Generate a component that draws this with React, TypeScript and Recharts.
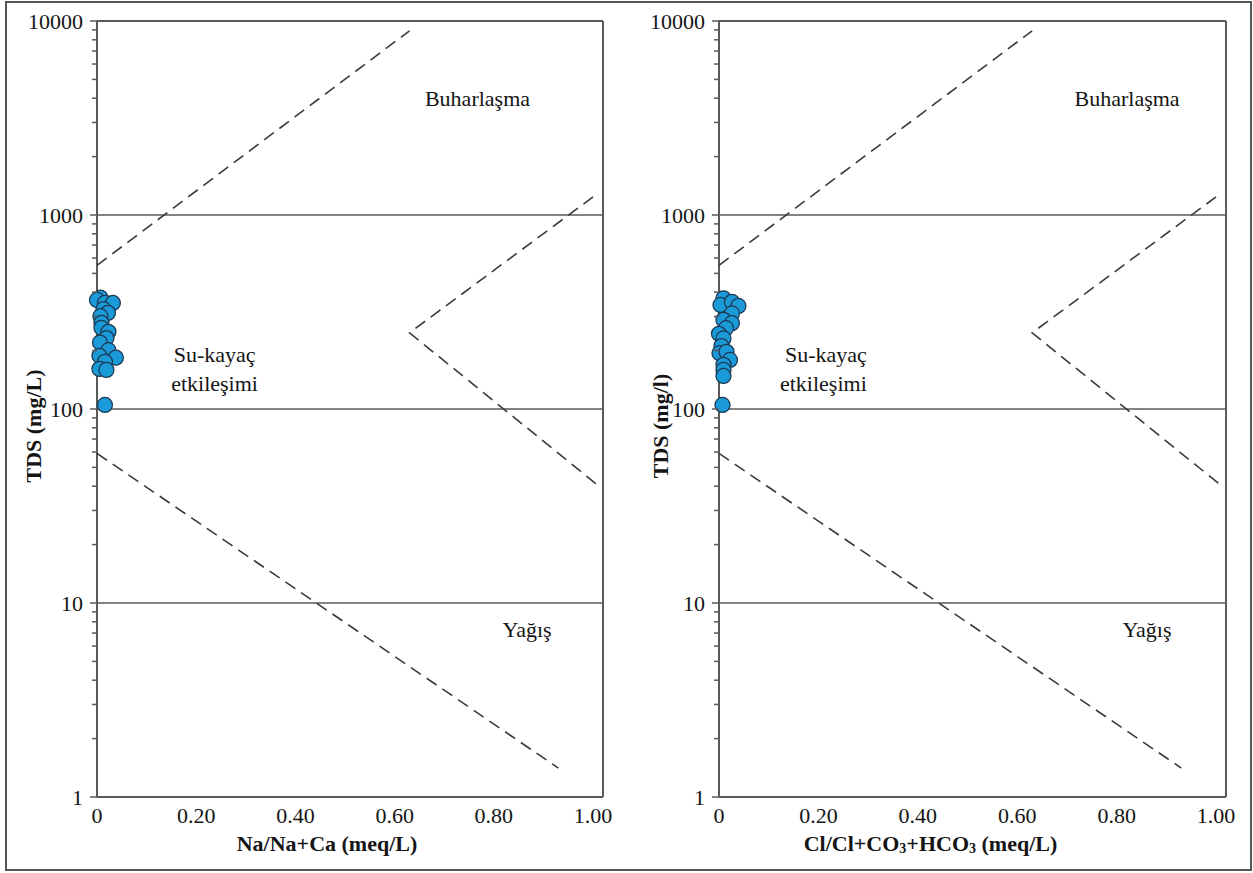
import React from 'react';
import {
  ScatterChart,
  Scatter,
  XAxis,
  YAxis,
  ReferenceLine,
  ReferenceDot,
  Label,
} from 'recharts';

// Gibbs diagram samples: ratio (x) vs TDS in mg/L (y)
const naRatio = [0.007, 0, 0.016, 0.032, 0.013, 0.022, 0.007, 0.009, 0.009, 0.023, 0.019, 0.006, 0.023, 0.005, 0.038, 0.016, 0.005, 0.019, 0.016];
const naTds = [375, 365, 352, 352, 327, 313, 301, 278, 262, 250, 232, 220, 201, 188, 184, 175, 161, 159, 105];

const clRatio = [0.009, 0.003, 0.026, 0.039, 0.026, 0.009, 0.026, 0.014, 0, 0.009, 0.005, 0.001, 0.015, 0.022, 0.009, 0.009, 0.009, 0.007];
const clTds = [372, 344, 357, 340, 311, 288, 277, 261, 244, 231, 211, 194, 197, 179, 169, 159, 148, 105];

// Boundary curves (dashed)
const upperBoundX = [0, 0.63];
const upperBoundY = [550, 8900];
const wedgeX = [1.0, 0.63, 1.012];
const wedgeY = [1240, 247, 40];
const lowerBoundX = [0, 0.93];
const lowerBoundY = [59, 1.41];

const xTicks = [0, 0.2, 0.4, 0.6, 0.8, 1.0];
const majorTicks = [1, 10, 100, 1000, 10000];
const yTicks = [
  ...majorTicks.slice(0, -1).flatMap((d) => [1, 2, 3, 4, 5, 6, 7, 8, 9].map((m) => m * d)),
  10000,
];
const gridValues = [10, 100, 1000];

const zoneLabels = ['Buharlaşma', 'Su-kayaç', 'etkileşimi', 'Yağış'];
const zoneY = [4000, 190, 136, 7.3];

const SERIF = 'Liberation Serif, Times New Roman, Times, serif';
const AXIS = '#5a5a5a';
const INK = '#141414';
const X_MAX = 1.02;

const zip = (xs: number[], ys: number[]) => xs.map((x, i) => ({ x, y: ys[i] }));

const YTick = (props: any) => {
  const { x, y, payload } = props;
  const major = majorTicks.includes(payload.value);
  return (
    <g>
      <line x1={x - (major ? 7 : 5)} x2={x} y1={y} y2={y} stroke={AXIS} strokeWidth={1.5} />
      {major && (
        <text x={x - 14} y={y} textAnchor="end" dominantBaseline="central" style={{ fontFamily: SERIF, fontSize: 22 }} fill={INK}>
          {payload.value}
        </text>
      )}
    </g>
  );
};

const XTick = (props: any) => {
  const { x, y, payload } = props;
  return (
    <text x={x} y={y + 12} textAnchor="middle" dominantBaseline="central" style={{ fontFamily: SERIF, fontSize: 22 }} fill={INK}>
      {payload.value === 0 ? '0' : payload.value.toFixed(2)}
    </text>
  );
};

const Dot = (props: any) => (
  <circle cx={props.cx} cy={props.cy} r={7.5} fill="#1B9AD8" stroke="#1D3A55" strokeWidth={1.3} />
);
const NoShape = () => <g />;

type PanelProps = {
  left: number;
  width: number;
  xs: number[];
  ys: number[];
  xTitle: React.ReactNode;
  xTitleDx: number;
  yTitle: string;
  yTitleX: number;
  zoneX: number[];
};

const Panel = ({ left, width, xs, ys, xTitle, xTitleDx, yTitle, yTitleX, zoneX }: PanelProps) => {
  const dash = { stroke: '#3a3a3a', strokeWidth: 1.6, strokeDasharray: '12 7' };
  return (
    <div style={{ position: 'absolute', left, top: 0 }}>
      <ScatterChart width={width} height={873} margin={{ top: 21, right: 17, bottom: 0, left: 0 }}>
        <XAxis
          type="number"
          dataKey="x"
          domain={[0, X_MAX]}
          ticks={xTicks}
          interval={0}
          height={76}
          tickLine={false}
          tickSize={0}
          tickMargin={6}
          axisLine={{ stroke: AXIS, strokeWidth: 2 }}
          tick={<XTick />}
        >
          <Label
            content={(p: any) => {
              const vb = p.viewBox;
              return (
                <text x={vb.x + vb.width / 2 + xTitleDx} y={vb.y + 46} textAnchor="middle" dominantBaseline="central" style={{ fontFamily: SERIF, fontSize: 22, fontWeight: 'bold' }} fill={INK}>
                  {xTitle}
                </text>
              );
            }}
          />
        </XAxis>
        <YAxis
          type="number"
          dataKey="y"
          scale="log"
          domain={[1, 10000]}
          allowDataOverflow
          ticks={yTicks}
          interval={0}
          width={97}
          tickSize={0}
          tickMargin={0}
          tickLine={false}
          axisLine={{ stroke: AXIS, strokeWidth: 2 }}
          tick={<YTick />}
        >
          <Label
            content={(p: any) => {
              const vb = p.viewBox;
              const cy = vb.y + vb.height / 2 + 17;
              return (
                <text x={yTitleX} y={cy} transform={`rotate(-90 ${yTitleX} ${cy})`} textAnchor="middle" dominantBaseline="central" style={{ fontFamily: SERIF, fontSize: 22, fontWeight: 'bold' }} fill={INK}>
                  {yTitle}
                </text>
              );
            }}
          />
        </YAxis>
        {gridValues.map((v) => (
          <ReferenceLine key={v} y={v} stroke={AXIS} strokeWidth={1.5} />
        ))}
        <ReferenceLine y={10000} stroke={AXIS} strokeWidth={2} />
        <ReferenceLine x={X_MAX} stroke={AXIS} strokeWidth={2} />
        <Scatter data={zip(upperBoundX, upperBoundY)} line={dash} shape={NoShape} isAnimationActive={false} />
        <Scatter data={zip(wedgeX, wedgeY)} line={dash} shape={NoShape} isAnimationActive={false} />
        <Scatter data={zip(lowerBoundX, lowerBoundY)} line={dash} shape={NoShape} isAnimationActive={false} />
        <Scatter data={zip(xs, ys)} shape={Dot} isAnimationActive={false} />
        {zoneLabels.map((t, i) => (
          <ReferenceDot
            key={t}
            x={zoneX[i]}
            y={zoneY[i]}
            shape={(p: any) => (
              <text x={p.cx} y={p.cy} textAnchor="middle" dominantBaseline="central" style={{ fontFamily: SERIF, fontSize: 22 }} fill={INK}>
                {t}
              </text>
            )}
          />
        ))}
      </ScatterChart>
    </div>
  );
};

const sub = (s: string) => (
  <tspan fontSize={14} dy={5}>
    {s}
  </tspan>
);

export default function App() {
  return (
    <div style={{ position: 'absolute', left: 0, top: 0, width: 1253, height: 873, background: '#fff', fontFamily: SERIF }}>
      <div style={{ position: 'absolute', left: 5, top: 1, width: 1243, height: 866, border: '2px solid #555' }} />
      <Panel
        left={0}
        width={620}
        xs={naRatio}
        ys={naTds}
        xTitle="Na/Na+Ca (meq/L)"
        xTitleDx={-23}
        yTitle="TDS (mg/L)"
        yTitleX={33}
        zoneX={[0.767, 0.237, 0.237, 0.867]}
      />
      <Panel
        left={622}
        width={621}
        xs={clRatio}
        ys={clTds}
        xTitle={
          <>
            Cl/Cl+CO{sub('3')}
            <tspan dy={-5}>+HCO</tspan>
            {sub('3')}
            <tspan dy={-5}> (meq/L)</tspan>
          </>
        }
        xTitleDx={-42}
        yTitle="TDS (mg/l)"
        yTitleX={38}
        zoneX={[0.821, 0.215, 0.21, 0.861]}
      />
    </div>
  );
}
